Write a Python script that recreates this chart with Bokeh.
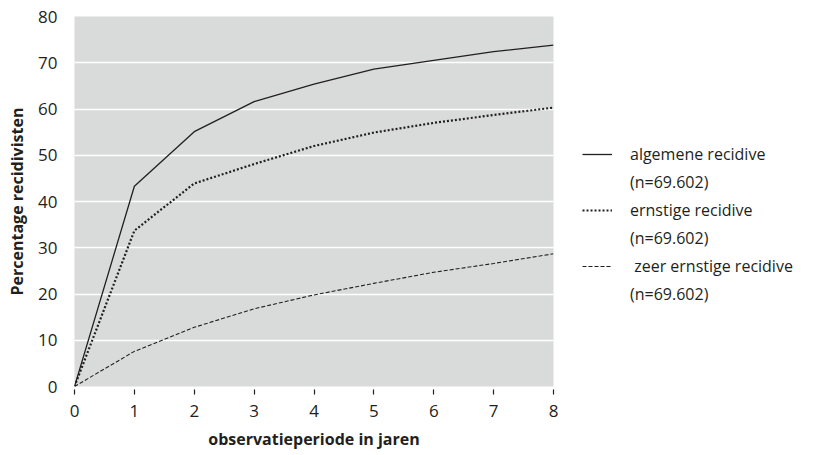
from bokeh.plotting import figure
from bokeh.models import Range1d, FixedTicker, Legend, LegendItem
from bokeh.embed import file_html
from bokeh.resources import INLINE

years = [0, 1, 2, 3, 4, 5, 6, 7, 8]
algemene = [0, 43.3, 55.1, 61.6, 65.4, 68.6, 70.5, 72.4, 73.8]
ernstige = [0, 33.7, 43.9, 48.1, 52.0, 54.9, 57.0, 58.7, 60.3]
zeer_ernstige = [0, 7.6, 12.8, 16.8, 19.8, 22.3, 24.7, 26.6, 28.7]
y_ticks = [0, 10, 20, 30, 40, 50, 60, 70, 80]
grid_ticks = [10, 20, 30, 40, 50, 60, 70]
labels = ["algemene recidive", "ernstige recidive", " zeer ernstige recidive"]
n_label = "(n=69.602)"

FONT = "Open Sans"
INK = "#231f20"

p = figure(width=837, height=455, frame_width=479, frame_height=370,
           output_backend="svg", toolbar_location=None,
           x_range=Range1d(0, 8), y_range=Range1d(0, 80),
           min_border_left=74, min_border_right=0, min_border_top=16, min_border_bottom=69)
p.background_fill_color = "#d9dada"
p.border_fill_color = "white"
p.outline_line_color = None

r1 = p.line(years, algemene, line_color=INK, line_width=1.3)
r2 = p.line(years, ernstige, line_color=INK, line_width=2.2, line_dash="2 2")
r3 = p.line(years, zeer_ernstige, line_color=INK, line_width=1.1, line_dash="4 2")
blank = p.line(years, algemene, line_alpha=0)

p.xaxis.ticker = FixedTicker(ticks=years)
p.yaxis.ticker = FixedTicker(ticks=y_ticks)
p.xgrid.grid_line_color = None
p.ygrid.ticker = FixedTicker(ticks=grid_ticks)
p.ygrid.grid_line_color = "white"
p.ygrid.grid_line_width = 1.5

for ax in (p.xaxis[0], p.yaxis[0]):
    ax.axis_line_color = None
    ax.minor_tick_line_color = None
    ax.major_label_text_font = FONT
    ax.major_label_text_font_size = "17px"
    ax.major_label_text_color = INK
    ax.axis_label_text_font = FONT
    ax.axis_label_text_font_style = "bold"
    ax.axis_label_text_color = INK
    ax.axis_label_text_font_size = "16px"

p.yaxis.major_tick_line_color = None
p.yaxis.major_label_standoff = 11
p.yaxis.axis_label = "Percentage recidivisten"
p.yaxis.axis_label_standoff = 7

p.xaxis.major_tick_in = -3
p.xaxis.major_tick_out = 8
p.xaxis.major_tick_line_color = INK
p.xaxis.major_tick_line_width = 1.2
p.xaxis.major_label_standoff = 10
p.xaxis.axis_label = "observatieperiode in jaren"
p.xaxis.axis_label_standoff = 8

items = [
    LegendItem(label=labels[0], renderers=[r1]),
    LegendItem(label=n_label, renderers=[blank]),
    LegendItem(label=labels[1], renderers=[r2]),
    LegendItem(label=n_label, renderers=[blank]),
    LegendItem(label=labels[2], renderers=[r3]),
    LegendItem(label=n_label, renderers=[blank]),
]
legend = Legend(items=items, location=(29, 78), border_line_color=None,
                background_fill_alpha=0, padding=0, margin=0, spacing=0,
                glyph_width=30, glyph_height=28, label_height=28, label_standoff=18,
                label_text_font=FONT, label_text_font_size="16px", label_text_color=INK)
p.add_layout(legend, "right")

open("out.html", "w").write(file_html(p, INLINE))
